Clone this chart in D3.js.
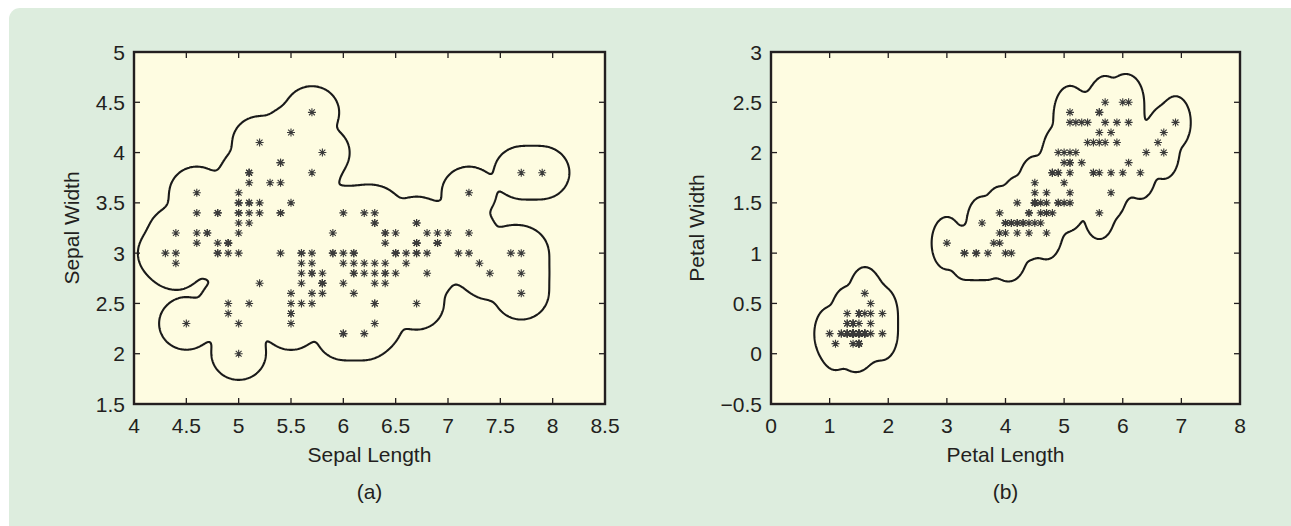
<!DOCTYPE html>
<html><head><meta charset="utf-8">
<script src="https://cdn.jsdelivr.net/npm/d3@7"></script>
<style>
html,body{margin:0;padding:0;background:#fff;}
svg{display:block;}
text{font-family:"Liberation Sans",Arial,Helvetica,sans-serif;fill:#231f20;}
</style></head><body>
<svg id="c" width="1291" height="526"></svg>
<script>
// Iris data (Fisher), 150 samples
const sepalLength = [5.1,4.9,4.7,4.6,5.0,5.4,4.6,5.0,4.4,4.9,5.4,4.8,4.8,4.3,5.8,5.7,5.4,5.1,5.7,5.1,5.4,5.1,4.6,5.1,4.8,5.0,5.0,5.2,5.2,4.7,4.8,5.4,5.2,5.5,4.9,5.0,5.5,4.9,4.4,5.1,5.0,4.5,4.4,5.0,5.1,4.8,5.1,4.6,5.3,5.0,
7.0,6.4,6.9,5.5,6.5,5.7,6.3,4.9,6.6,5.2,5.0,5.9,6.0,6.1,5.6,6.7,5.6,5.8,6.2,5.6,5.9,6.1,6.3,6.1,6.4,6.6,6.8,6.7,6.0,5.7,5.5,5.5,5.8,6.0,5.4,6.0,6.7,6.3,5.6,5.5,5.5,6.1,5.8,5.0,5.6,5.7,5.7,6.2,5.1,5.7,
6.3,5.8,7.1,6.3,6.5,7.6,4.9,7.3,6.7,7.2,6.5,6.4,6.8,5.7,5.8,6.4,6.5,7.7,7.7,6.0,6.9,5.6,7.7,6.3,6.7,7.2,6.2,6.1,6.4,7.2,7.4,7.9,6.4,6.3,6.1,7.7,6.3,6.4,6.0,6.9,6.7,6.9,5.8,6.8,6.7,6.7,6.3,6.5,6.2,5.9];
const sepalWidth = [3.5,3.0,3.2,3.1,3.6,3.9,3.4,3.4,2.9,3.1,3.7,3.4,3.0,3.0,4.0,4.4,3.9,3.5,3.8,3.8,3.4,3.7,3.6,3.3,3.4,3.0,3.4,3.5,3.4,3.2,3.1,3.4,4.1,4.2,3.1,3.2,3.5,3.1,3.0,3.4,3.5,2.3,3.2,3.5,3.8,3.0,3.8,3.2,3.7,3.3,
3.2,3.2,3.1,2.3,2.8,2.8,3.3,2.4,2.9,2.7,2.0,3.0,2.2,2.9,2.9,3.1,3.0,2.7,2.2,2.5,3.2,2.8,2.5,2.8,2.9,3.0,2.8,3.0,2.9,2.6,2.4,2.4,2.7,2.7,3.0,3.4,3.1,2.3,3.0,2.5,2.6,3.0,2.6,2.3,2.7,3.0,2.9,2.9,2.5,2.8,
3.3,2.7,3.0,2.9,3.0,3.0,2.5,2.9,2.5,3.6,3.2,2.7,3.0,2.5,2.8,3.2,3.0,3.8,2.6,2.2,3.2,2.8,2.8,2.7,3.3,3.2,2.8,3.0,2.8,3.0,2.8,3.8,2.8,2.8,2.6,3.0,3.4,3.1,3.0,3.1,3.1,3.1,2.7,3.2,3.3,3.0,2.5,3.0,3.4,3.0];
const petalLength = [1.4,1.4,1.3,1.5,1.4,1.7,1.4,1.5,1.4,1.5,1.5,1.6,1.4,1.1,1.2,1.5,1.3,1.4,1.7,1.5,1.7,1.5,1.0,1.7,1.9,1.6,1.6,1.5,1.4,1.6,1.6,1.5,1.5,1.4,1.5,1.2,1.3,1.5,1.3,1.5,1.3,1.3,1.3,1.6,1.9,1.4,1.6,1.4,1.5,1.4,
4.7,4.5,4.9,4.0,4.6,4.5,4.7,3.3,4.6,3.9,3.5,4.2,4.0,4.7,3.6,4.4,4.5,4.1,4.5,3.9,4.8,4.0,4.9,4.7,4.3,4.4,4.8,5.0,4.5,3.5,3.8,3.7,3.9,5.1,4.5,4.5,4.7,4.4,4.1,4.0,4.4,4.6,4.0,3.3,4.2,4.2,4.2,4.3,3.0,4.1,
6.0,5.1,5.9,5.6,5.8,6.6,4.5,6.3,5.8,6.1,5.1,5.3,5.5,5.0,5.1,5.3,5.5,6.7,6.9,5.0,5.7,4.9,6.7,4.9,5.7,6.0,4.8,4.9,5.6,5.8,6.1,6.4,5.6,5.1,5.6,6.1,5.6,5.5,4.8,5.4,5.6,5.1,5.1,5.9,5.7,5.2,5.0,5.2,5.4,5.1];
const petalWidth = [0.2,0.2,0.2,0.2,0.2,0.4,0.3,0.2,0.2,0.1,0.2,0.2,0.1,0.1,0.2,0.4,0.4,0.3,0.3,0.3,0.2,0.4,0.2,0.5,0.2,0.2,0.4,0.2,0.2,0.2,0.2,0.4,0.1,0.2,0.1,0.2,0.2,0.1,0.2,0.2,0.3,0.3,0.2,0.6,0.4,0.3,0.2,0.2,0.2,0.2,
1.4,1.5,1.5,1.3,1.5,1.3,1.6,1.0,1.3,1.4,1.0,1.5,1.0,1.4,1.3,1.4,1.5,1.0,1.5,1.1,1.8,1.3,1.5,1.2,1.3,1.4,1.4,1.7,1.5,1.0,1.1,1.0,1.2,1.6,1.5,1.6,1.5,1.3,1.3,1.3,1.2,1.4,1.2,1.0,1.3,1.2,1.3,1.3,1.1,1.3,
2.5,1.9,2.1,1.8,2.2,2.1,1.7,1.8,1.8,2.5,2.0,1.9,2.1,2.0,2.4,2.3,1.8,2.2,2.3,1.5,2.3,2.0,2.0,1.8,2.1,1.8,1.8,1.8,2.1,1.6,1.9,2.0,2.2,1.5,1.4,2.3,2.4,1.8,1.8,2.1,2.4,2.3,1.9,2.3,2.5,2.3,1.9,2.0,2.3,1.8];

const xTicksA = [4,4.5,5,5.5,6,6.5,7,7.5,8,8.5];
const yTicksA = [1.5,2,2.5,3,3.5,4,4.5,5];
const xTicksB = [0,1,2,3,4,5,6,7,8];
const yTicksB = [-0.5,0,0.5,1,1.5,2,2.5,3];

const svg = d3.select("#c");
svg.append("rect").attr("x",9).attr("y",8).attr("width",1300).attr("height",540)
  .attr("rx",11).attr("fill","#ddedde");

const fmt = v => (v < 0 ? "\u2212" + Math.abs(v) : String(v));
const star = "M0,-4V4M-4,0H4M-2.9,-2.9L2.9,2.9M-2.9,2.9L2.9,-2.9";
const FS = 21;

function panel(cfg){
  const {xs, ys, xd, yd, xt, yt, xlab, ylab, cap, xv, yv, ylabX} = cfg;
  const g = svg.append("g");
  const [L,R] = xs.range(), [B,T] = ys.range();
  g.append("rect").attr("x",L).attr("y",T).attr("width",R-L).attr("height",B-T).attr("fill","#fefce1");

  // boundary: level set of a gaussian kernel sum over the (deduplicated) samples
  const pts = Array.from(new Set(xv.map((x,i)=>x+","+yv[i]))).map(s=>s.split(",").map(Number));
  const cell = 0.01, s = 0.1, Riso = 0.26;
  const thr = Math.exp(-Riso*Riso/(2*s*s));
  const nx = Math.round((xd[1]-xd[0])/cell)+1, ny = Math.round((yd[1]-yd[0])/cell)+1;
  const vals = new Float64Array(nx*ny);
  const inv = 1/(2*s*s), cut = 5*s;
  for (const [px,py] of pts){
    const i0 = Math.max(0,Math.floor((px-cut-xd[0])/cell)), i1 = Math.min(nx-1,Math.ceil((px+cut-xd[0])/cell));
    const j0 = Math.max(0,Math.floor((py-cut-yd[0])/cell)), j1 = Math.min(ny-1,Math.ceil((py+cut-yd[0])/cell));
    for (let j=j0;j<=j1;j++){
      const dy = yd[0]+j*cell-py;
      for (let i=i0;i<=i1;i++){
        const dx = xd[0]+i*cell-px;
        vals[i+j*nx] += Math.exp(-(dx*dx+dy*dy)*inv);
      }
    }
  }
  const cont = d3.contours().size([nx,ny]).thresholds([thr])(vals);
  const proj = d3.geoTransform({point(x,y){ this.stream.point(xs(xd[0]+(x-0.5)*cell), ys(yd[0]+(y-0.5)*cell)); }});
  g.append("g").selectAll("path").data(cont).join("path")
    .attr("d", d3.geoPath(proj)).attr("fill","none").attr("stroke","#1a1a1a").attr("stroke-width",2.1);

  // points
  g.append("g").selectAll("path").data(xv.map((x,i)=>[x,yv[i]])).join("path")
    .attr("transform",d=>`translate(${xs(d[0])},${ys(d[1])})`)
    .attr("d",star).attr("fill","none").attr("stroke","#3a3a3a").attr("stroke-width",1.1);

  // frame and inward ticks
  const tk = 6;
  const tg = g.append("g").attr("stroke","#231f20").attr("stroke-width",1.3);
  xt.forEach(v=>{ const x = xs(v);
    tg.append("line").attr("x1",x).attr("x2",x).attr("y1",B).attr("y2",B-tk);
    tg.append("line").attr("x1",x).attr("x2",x).attr("y1",T).attr("y2",T+tk); });
  yt.forEach(v=>{ const y = ys(v);
    tg.append("line").attr("x1",L).attr("x2",L+tk).attr("y1",y).attr("y2",y);
    tg.append("line").attr("x1",R).attr("x2",R-tk).attr("y1",y).attr("y2",y); });
  g.append("rect").attr("x",L).attr("y",T).attr("width",R-L).attr("height",B-T)
    .attr("fill","none").attr("stroke","#231f20").attr("stroke-width",2.4);

  g.append("g").selectAll("text").data(xt).join("text")
    .attr("x",d=>xs(d)).attr("y",B+29).attr("text-anchor","middle").attr("font-size",FS).text(fmt);
  g.append("g").selectAll("text").data(yt).join("text")
    .attr("x",L-9).attr("y",d=>ys(d)+7.5).attr("text-anchor","end").attr("font-size",FS).text(fmt);
  const cx = (L+R)/2;
  g.append("text").attr("x",cx).attr("y",B+58).attr("text-anchor","middle").attr("font-size",FS).text(xlab);
  g.append("text").attr("x",cx).attr("y",B+95).attr("text-anchor","middle").attr("font-size",FS).text(cap);
  g.append("text").attr("transform",`translate(${ylabX},${(T+B)/2}) rotate(-90)`)
    .attr("text-anchor","middle").attr("font-size",FS).text(ylab);
}

panel({
  xs: d3.scaleLinear().domain([4,8.5]).range([134,605]),
  ys: d3.scaleLinear().domain([1.5,5]).range([404,52]),
  xd:[4,8.5], yd:[1.5,5], xt:xTicksA, yt:yTicksA,
  xlab:"Sepal Length", ylab:"Sepal Width", cap:"(a)",
  xv:sepalLength, yv:sepalWidth, ylabX:79
});
panel({
  xs: d3.scaleLinear().domain([0,8]).range([771,1240]),
  ys: d3.scaleLinear().domain([-0.5,3]).range([404,52]),
  xd:[0,8], yd:[-0.5,3], xt:xTicksB, yt:yTicksB,
  xlab:"Petal Length", ylab:"Petal Width", cap:"(b)",
  xv:petalLength, yv:petalWidth, ylabX:704
});
</script>
</body></html>
